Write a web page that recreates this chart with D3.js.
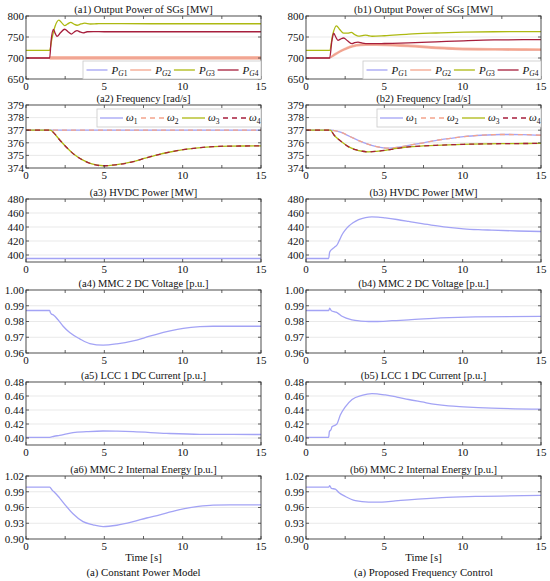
<!DOCTYPE html>
<html><head><meta charset="utf-8">
<script src="https://cdn.jsdelivr.net/npm/d3@7"></script>
<style>body{margin:0;background:#fff} text{font-family:"Liberation Serif","Times New Roman","DejaVu Serif",serif}</style>
</head><body><svg id="c" width="550" height="581"></svg>
<script>
// ---------- DATA ----------
const timeTicks = [0, 5, 10, 15];
const timeMinorTicks = [0, 2.5, 5, 7.5, 10, 12.5, 15];

// (a1) constant power model – SG output power [MW]
const a1PG1 = [[0,700],[15,700]];
const a1PG2 = [[0,700],[15,700]];
const a1PG2Band = [[1.51,696,705],[15,696,705]];
const a1PG3 = [[0,718],[1.51,718],[1.65,745],[1.85,775],[2.1,790],[2.3,783],[2.47,777],[2.65,781],[2.86,785],[3.05,781],[3.26,778],[3.5,781],[3.75,783],[4.1,781],[4.5,781.5],[5,782],[8,781.5],[15,781.5]];
const a1PG4 = [[0,700],[1.51,700],[1.6,740],[1.75,768],[1.87,758],[1.98,751.5],[2.2,760],[2.47,768.5],[2.7,762],[2.9,757],[3.08,762],[3.26,765],[3.45,762],[3.65,760],[3.9,762.5],[4.3,763],[5,762.5],[15,762.5]];

// (b1) proposed control – SG output power [MW]
const b1PG2 = [[0,700],[1.51,700],[1.7,705],[2.0,712],[2.4,720],[2.8,726],[3.2,730],[3.8,732],[4.5,732],[5.5,731],[6.5,729],[8,725],[10,721.5],[12,720.5],[15,720]];
const b1PG1 = b1PG2;
const b1PG2Band = [[1.51,700,700],[1.7,701.5,708.5],[2.0,708.5,715.5],[2.4,716.5,723.5],[2.8,722.5,729.5],[3.2,726.5,733.5],[3.8,728.5,735.5],[4.5,728.5,735.5],[5.5,727.5,734.5],[6.5,725.5,732.5],[8,721.5,728.5],[10,718,725],[12,717,724],[15,716.5,723.5]];
const b1PG3 = [[0,718],[1.51,718],[1.7,755],[1.94,776.5],[2.15,768],[2.4,759],[2.65,759],[2.89,761],[3.1,756],[3.36,752],[3.6,753.5],[3.8,754.7],[4.0,753],[4.21,751.8],[5,753],[6.55,757],[8.3,759.5],[10.06,761.5],[12,762.5],[15,763]];
const b1PG4 = [[0,700],[1.51,700],[1.65,740],[1.77,759],[1.9,750],[2.04,742],[2.2,745],[2.4,747.6],[2.65,741],[2.94,734],[3.1,736.5],[3.32,738],[3.6,735.5],[4.0,734],[4.43,734],[5,734.5],[6.55,736],[8.3,738.5],[10.06,741],[12,743],[15,743.7]];

// (a2)/(b2) frequency [rad/s]
const a2W12 = [[0,377],[15,377]];
const a2W34 = [[0,377],[1.55,377],[1.8,376.75],[2.1,376.3],[2.58,375.65],[3.1,375.05],[3.64,374.62],[4.2,374.32],[4.92,374.18],[5.7,374.25],[6.84,374.5],[7.6,374.78],[8.33,375.03],[9.2,375.27],[10.04,375.46],[11,375.6],[11.96,375.7],[13,375.74],[15,375.75]];
const b2W12 = [[0,377],[1.6,377],[1.9,376.95],[2.3,376.8],[2.8,376.5],[3.36,376.18],[3.9,375.92],[4.43,375.72],[4.85,375.62],[5.28,375.58],[5.9,375.65],[6.55,375.8],[7.4,375.98],[8.26,376.18],[9.2,376.35],[10.06,376.49],[11.2,376.6],[12.51,376.66],[13.8,376.65],[15,376.6]];
const b2W34 = [[0,377],[1.55,377],[1.8,376.6],[2.05,376.3],[2.3,376.05],[2.7,375.7],[3.15,375.46],[3.6,375.33],[4.0,375.28],[4.5,375.32],[5.06,375.4],[5.8,375.55],[6.55,375.67],[8.3,375.8],[10.06,375.88],[12.5,375.93],[15,375.95]];

// (a3)/(b3) HVDC power [MW]
const a3P = [[0,395],[15,395]];
const b3P = [[0,395],[1.45,395],[1.5,403],[1.55,405.7],[1.7,409],[1.87,412],[2.0,415],[2.15,422],[2.3,429],[2.5,435.5],[2.72,441],[3.0,446],[3.36,450.6],[3.8,453.5],[4.2,454.4],[4.6,454.2],[5.06,453],[5.8,450.7],[6.55,448],[7.4,444.8],[8.26,442],[9.1,439.5],[10.06,437.4],[11,436.2],[11.87,435.5],[13.5,434.3],[15,433.6]];

// (a4)/(b4) MMC 2 DC voltage [p.u.]
const a4V = [[0,0.987],[1.51,0.987],[1.56,0.9855],[1.62,0.9848],[1.77,0.984],[2.05,0.981],[2.37,0.977],[2.79,0.973],[3.43,0.969],[4.07,0.966],[4.92,0.965],[5.8,0.9658],[6.84,0.9677],[7.6,0.9698],[8.33,0.9719],[9.2,0.974],[10.04,0.9756],[11.1,0.9767],[11.95,0.977],[15,0.977]];
const b4V = [[0,0.987],[1.45,0.987],[1.51,0.9885],[1.62,0.9868],[1.87,0.986],[2.0,0.9855],[2.3,0.9833],[2.94,0.981],[3.5,0.9803],[4.0,0.980],[4.43,0.980],[5.5,0.9805],[6.55,0.981],[8.6,0.9823],[10.8,0.983],[15,0.9833]];

// (a5)/(b5) LCC 1 DC current [p.u.]
const a5I = [[0,0.401],[1.51,0.401],[1.8,0.4025],[2.15,0.4038],[2.6,0.406],[3.0,0.4076],[3.86,0.409],[4.92,0.41],[5.8,0.4097],[6.84,0.409],[8.97,0.4066],[11.1,0.4052],[15,0.405]];
const b5I = [[0,0.401],[1.45,0.401],[1.49,0.409],[1.6,0.412],[1.66,0.416],[1.83,0.418],[1.98,0.4203],[2.19,0.4327],[2.51,0.4445],[2.94,0.455],[3.57,0.461],[4.21,0.4634],[5.06,0.4615],[5.8,0.4585],[6.55,0.455],[7.4,0.4515],[8.26,0.448],[9.1,0.4458],[10.06,0.4445],[11.87,0.4426],[15,0.4412]];

// (a6)/(b6) MMC 2 internal energy [p.u.]
const a6E = [[0,0.9989],[1.51,0.9989],[1.68,0.9926],[1.83,0.9887],[2.15,0.978],[2.58,0.962],[3.0,0.948],[3.64,0.933],[4.28,0.927],[4.92,0.9236],[5.8,0.9262],[6.84,0.933],[7.7,0.94],[8.54,0.946],[9.3,0.952],[10.04,0.9575],[11.0,0.962],[11.95,0.9645],[13,0.965],[15,0.965]];
const b6E = [[0,0.9989],[1.45,0.9989],[1.51,1.0015],[1.62,0.9964],[1.87,0.995],[2.09,0.9887],[2.51,0.981],[3.15,0.973],[4.0,0.9704],[4.85,0.9704],[5.7,0.9725],[6.55,0.9747],[8.68,0.979],[10.81,0.981],[15,0.983]];

// axis tick values
const ticksP = [650,700,750,800];
const ticksW = [374,375,376,377,378,379];
const ticksH = [400,420,440,460,480];
const ticksV = [0.96,0.97,0.98,0.99,1.00];
const ticksI = [0.40,0.42,0.44,0.46,0.48];
const ticksE = [0.90,0.93,0.96,0.99,1.02];

const titlesA = ["(a1) Output Power of SGs [MW]","(a2) Frequency [rad/s]","(a3) HVDC Power [MW]","(a4) MMC 2 DC Voltage [p.u.]","(a5) LCC 1 DC Current [p.u.]","(a6) MMC 2 Internal Energy [p.u.]"];
const titlesB = ["(b1) Output Power of SGs [MW]","(b2) Frequency [rad/s]","(b3) HVDC Power [MW]","(b4) MMC 2 DC Voltage [p.u.]","(b5) LCC 1 DC Current [p.u.]","(b6) MMC 2 Internal Energy [p.u.]"];
const captions = ["(a) Constant Power Model","(a) Proposed Frequency Control"];
const xLabel = "Time [s]";

// ---------- STYLE / LAYOUT ----------
const FONT = '"Liberation Serif","Times New Roman","DejaVu Serif",serif';
const C1 = '#a3a3f5', C2 = '#f4a48c', C3 = '#adb912', C4 = '#a61e3c';
const colX = [[26,261],[306,541]];
const rowTop = [16,105,199,290,382,476];
const rowH = 63;
const svg = d3.select('#c');

const rows = [
  {domain:[650,800], ticks:ticksP, fmt:d3.format('d'), legend:'P'},
  {domain:[374,379], ticks:ticksW, fmt:d3.format('d'), legend:'W'},
  {domain:[390,480], ticks:ticksH, fmt:d3.format('d')},
  {domain:[0.96,1.00], ticks:ticksV, fmt:d3.format('.2f')},
  {domain:[0.39,0.48], ticks:ticksI, fmt:d3.format('.2f')},
  {domain:[0.90,1.02], ticks:ticksE, fmt:d3.format('.2f')}
];
const seriesA = [
  [{d:a1PG1,c:C1},{d:a1PG2,c:C2,band:a1PG2Band},{d:a1PG3,c:C3},{d:a1PG4,c:C4}],
  [{d:a2W12,c:C1},{d:a2W12,c:C2,dash:'5,4'},{d:a2W34,c:C3},{d:a2W34,c:C4,dash:'5,4'}],
  [{d:a3P,c:C1}],[{d:a4V,c:C1}],[{d:a5I,c:C1}],[{d:a6E,c:C1}]
];
const seriesB = [
  [{d:b1PG1,c:C1},{d:b1PG2,c:C2,band:b1PG2Band},{d:b1PG3,c:C3},{d:b1PG4,c:C4}],
  [{d:b2W12,c:C1},{d:b2W12,c:C2,dash:'5,4'},{d:b2W34,c:C3},{d:b2W34,c:C4,dash:'5,4'}],
  [{d:b3P,c:C1}],[{d:b4V,c:C1}],[{d:b5I,c:C1}],[{d:b6E,c:C1}]
];

function txt(g, x, y, s, size, anchor) {
  return g.append('text').attr('x',x).attr('y',y).attr('text-anchor',anchor||'start')
    .attr('font-family',FONT).attr('font-size',size).attr('fill','#111').text(s);
}

let clipId = 0;
function drawPanel(col, r, title, series) {
  const [x0, x1] = colX[col];
  const top = rowTop[r], bot = top + rowH;
  const cfg = rows[r];
  const x = d3.scaleLinear().domain([0,15]).range([x0,x1]);
  const y = d3.scaleLinear().domain(cfg.domain).range([bot, top]);
  const g = svg.append('g');
  g.selectAll('.gr').data(cfg.ticks.filter(t => y(t) > top + 0.5 && y(t) < bot - 0.5)).enter()
    .append('line').attr('x1',x0).attr('x2',x1).attr('y1',d=>y(d)).attr('y2',d=>y(d))
    .attr('stroke','#e3e3e3').attr('stroke-width',0.8);
  const id = 'clip' + (clipId++);
  svg.append('clipPath').attr('id',id).append('rect').attr('x',x0).attr('y',top).attr('width',x1-x0).attr('height',rowH);
  const pg = g.append('g').attr('clip-path',`url(#${id})`);
  const line = d3.line().x(d=>x(d[0])).y(d=>y(d[1])).curve(d3.curveMonotoneX);
  const area = d3.area().x(d=>x(d[0])).y0(d=>y(d[1])).y1(d=>y(d[2])).curve(d3.curveMonotoneX);
  series.forEach(s => {
    if (s.band) pg.append('path').attr('d', area(s.band)).attr('fill', s.c).attr('opacity',0.75);
    pg.append('path').attr('d', line(s.d)).attr('fill','none').attr('stroke',s.c)
      .attr('stroke-width',1.3).attr('stroke-dasharray', s.dash || null);
  });
  g.append('rect').attr('x',x0).attr('y',top).attr('width',x1-x0).attr('height',rowH)
    .attr('fill','none').attr('stroke','#3a3a3a').attr('stroke-width',0.9);
  const tl = 3;
  timeMinorTicks.forEach(t => {
    g.append('line').attr('x1',x(t)).attr('x2',x(t)).attr('y1',bot).attr('y2',bot-tl).attr('stroke','#3a3a3a').attr('stroke-width',0.8);
    g.append('line').attr('x1',x(t)).attr('x2',x(t)).attr('y1',top).attr('y2',top+tl).attr('stroke','#3a3a3a').attr('stroke-width',0.8);
  });
  cfg.ticks.forEach(t => {
    g.append('line').attr('x1',x0).attr('x2',x0+tl).attr('y1',y(t)).attr('y2',y(t)).attr('stroke','#3a3a3a').attr('stroke-width',0.8);
    g.append('line').attr('x1',x1).attr('x2',x1-tl).attr('y1',y(t)).attr('y2',y(t)).attr('stroke','#3a3a3a').attr('stroke-width',0.8);
  });
  timeTicks.forEach(t => txt(g, x(t), bot+11, t, 11, 'middle'));
  cfg.ticks.forEach(t => txt(g, x0-2, y(t)+3.8, cfg.fmt(t), 11, 'end'));
  txt(g, (x0+x1)/2, top-3, title, 10.5, 'middle');
  if (cfg.legend === 'P') {
    const w = 178, h = 18, lx = x1 - w, ly = bot - h;
    g.append('rect').attr('x',lx).attr('y',ly).attr('width',w).attr('height',h).attr('fill','#fff').attr('stroke','#c8c8c8').attr('stroke-width',0.8);
    ['1','2','3','4'].forEach((k,i) => {
      const sx = lx + 3.5 + i*43.7;
      g.append('line').attr('x1',sx).attr('x2',sx+21).attr('y1',ly+h/2).attr('y2',ly+h/2).attr('stroke',series[i].c).attr('stroke-width',1.3);
      const t = txt(g, sx+25, ly+h/2+3.5, '', 11);
      t.append('tspan').attr('font-style','italic').text('P');
      t.append('tspan').attr('font-size',7.5).attr('font-style','italic').attr('dy',2.5).text('G');
      t.append('tspan').attr('font-size',7.5).text(k);
    });
  } else if (cfg.legend === 'W') {
    const w = 164, h = 18, lx = x1 - w, ly = top + 4;
    g.append('rect').attr('x',lx).attr('y',ly).attr('width',w).attr('height',h).attr('fill','#fff').attr('stroke','#c8c8c8').attr('stroke-width',0.8);
    ['1','2','3','4'].forEach((k,i) => {
      const sx = lx + 3 + i*41;
      g.append('line').attr('x1',sx).attr('x2',sx+23).attr('y1',ly+h/2).attr('y2',ly+h/2).attr('stroke',series[i].c)
        .attr('stroke-width',1.3).attr('stroke-dasharray',series[i].dash||null);
      const t = txt(g, sx+26, ly+h/2+3, '', 11);
      t.append('tspan').attr('font-style','italic').text('ω');
      t.append('tspan').attr('font-size',7.5).attr('dy',2.5).text(k);
    });
  }
}

for (let r = 0; r < 6; r++) {
  drawPanel(0, r, titlesA[r], seriesA[r]);
  drawPanel(1, r, titlesB[r], seriesB[r]);
}
const lastBot = rowTop[5] + rowH;
[0,1].forEach(c => {
  const cx = (colX[c][0] + colX[c][1]) / 2;
  txt(svg, cx, lastBot+22, xLabel, 10.8, 'middle');
  txt(svg, cx, lastBot+37, captions[c], 10.8, 'middle');
});
</script></body></html>
